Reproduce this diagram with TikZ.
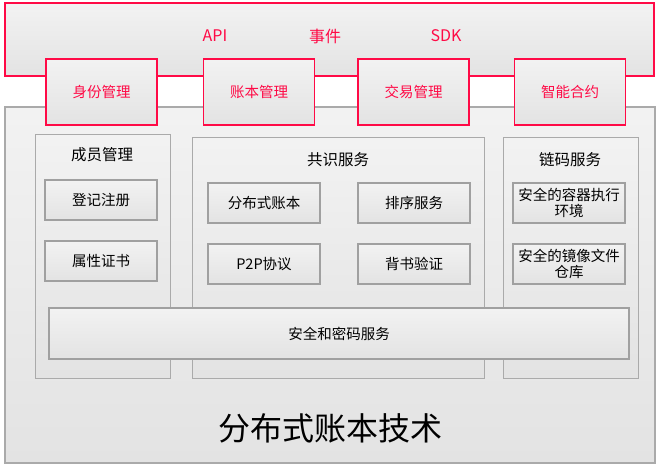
\documentclass[tikz,border=0pt]{standalone}
\usepackage{fontspec}
\setmainfont{Noto Sans CJK SC}
\usetikzlibrary{positioning}

\definecolor{layerred}{RGB}{255,10,70}
\definecolor{itemline}{RGB}{160,160,160}
\definecolor{panelline}{RGB}{170,170,170}

\tikzset{
  shade box/.style={top color=black!5, bottom color=black!11, inner sep=0pt, align=center},
  layer/.style={shade box, draw=layerred, line width=1.2pt, text=layerred},
  module/.style={layer, minimum width=111pt, minimum height=66pt, font=\fontsize{14.5}{16}\selectfont},
  panel/.style={shade box, draw=panelline, line width=1pt},
  item/.style={shade box, draw=itemline, line width=1.2pt, minimum width=112pt, minimum height=40pt, font=\fontsize{14.5}{16}\selectfont},
  title/.style={font=\fontsize{15.5}{17}\selectfont},
  iface/.style={text=layerred, font=\fontsize{16}{18}\selectfont}
}

\begin{document}
\begin{tikzpicture}[x=1pt, y=-1pt]
  \useasboundingbox (0,0) rectangle (660,468);

  % upper layer
  \node (top) [layer, minimum width=649pt, minimum height=73pt] at (329.5,39.5) {};
  \node (api) [iface] at (215,36) {API};
  \node (event) [iface] at (325,36) {事件};
  \node (sdk) [iface] at (446,36) {SDK};

  % base layer
  \node (base) [panel, line width=1.5pt, minimum width=650pt, minimum height=356pt] at (330,285) {};
  \node (basetitle) [font=\fontsize{32}{34}\selectfont] at (330,428) {分布式账本技术};

  \node (identity) [module] at (101.5,92) {身份管理};
  \node (ledger) [module] at (259,92) {账本管理};
  \node (trade) [module] at (413.5,92) {交易管理};
  \node (contract) [module] at (570,92) {智能合约};

  % membership
  \node (member) [panel, minimum width=135pt, minimum height=244pt] at (102.5,256) {};
  \node (membertitle) [title] at (102,155) {成员管理};
  \node (register) [item] at (101,200) {登记注册};
  \node (cert) [item] at (101,261) {属性证书};

  % consensus
  \node (consensus) [panel, minimum width=292pt, minimum height=241pt] at (338,257.5) {};
  \node (consensustitle) [title] at (338,160) {共识服务};
  \node (distledger) [item] at (264,203) {分布式账本};
  \node (order) [item] at (414,203) {排序服务};
  \node (ptp) [item] at (264,264) {P2P协议};
  \node (endorse) [item] at (414,264) {背书验证};

  % chaincode
  \node (chaincode) [panel, minimum width=135pt, minimum height=241pt] at (570.5,257.5) {};
  \node (chaincodetitle) [title] at (570,160) {链码服务};
  \node (container) [item] at (569,203) {安全的容器执行\\环境};
  \node (image) [item] at (569,264) {安全的镜像文件\\仓库};

  \node (crypto) [item, minimum width=580pt, minimum height=51pt] at (339,333.5) {安全和密码服务};
\end{tikzpicture}
\end{document}
